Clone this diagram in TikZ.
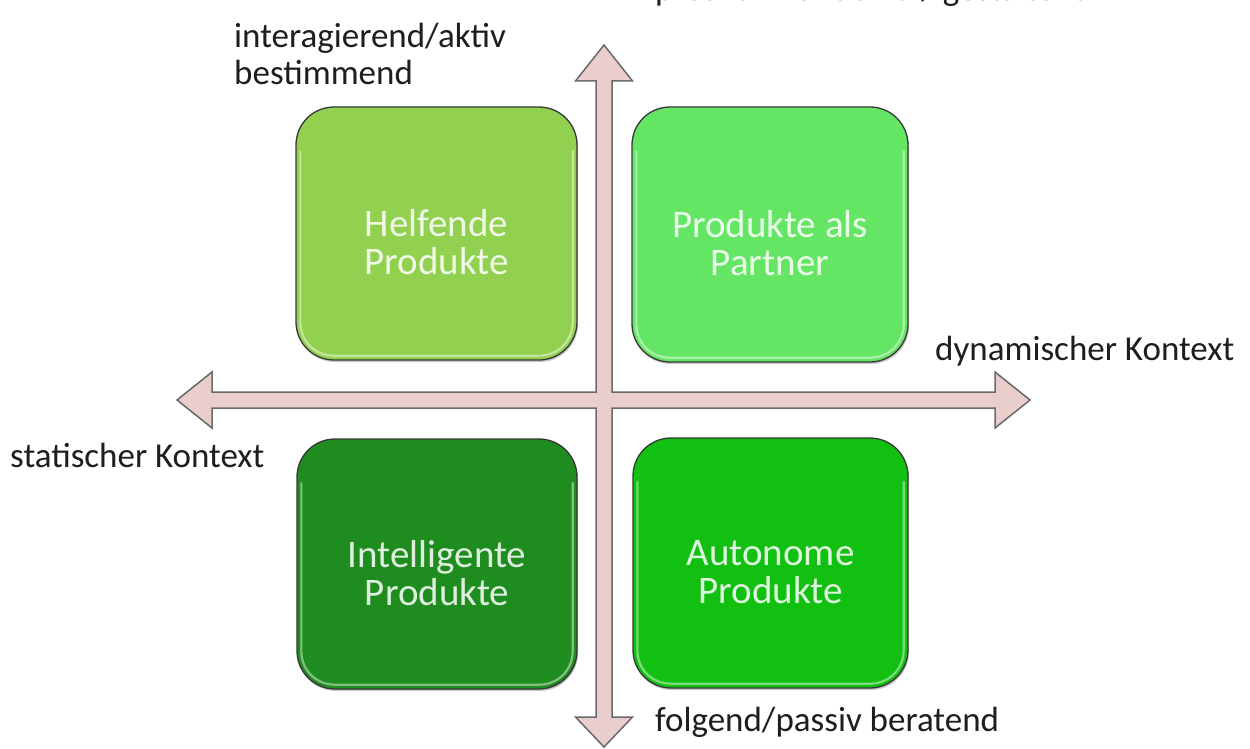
\documentclass[tikz,border=0pt]{standalone}
\usepackage{fontspec}
\setmainfont{Carlito}
\usetikzlibrary{calc,shadows}

\definecolor{cHelf}{HTML}{92D050}
\definecolor{cPart}{HTML}{64E664}
\definecolor{cIntel}{HTML}{1E8C1E}
\definecolor{cAuto}{HTML}{12C012}
\definecolor{axisfill}{HTML}{EACDCD}
\definecolor{axisline}{HTML}{6A6A6A}
\definecolor{labelink}{HTML}{1E1E1E}

\tikzset{
  cell/.style={draw=black!78, line width=1.3pt, rounded corners=38pt,
    minimum width=#1, inner sep=0pt,
    drop shadow={shadow xshift=1pt, shadow yshift=-2pt, opacity=0.35, fill=black!60}},
  bevel/.style={draw=white, line width=2.2pt, opacity=0.45, rounded corners=33pt},
  celltext/.style={font=\fontsize{39}{38}\selectfont, align=center, text=white!86!#1},
  axislabel/.style={font=\fontsize{35}{33}\selectfont, text=labelink, inner sep=0pt},
}

\newcommand\bevelon[1]{%
  \draw[bevel] ($(#1.north west)+(5,44)$) -- ($(#1.south west)+(5,-5)$)
    -- ($(#1.south east)+(-5,-5)$) -- ($(#1.north east)+(-5,44)$);}

\begin{document}
\begin{tikzpicture}[x=1pt, y=-1pt]
  \useasboundingbox (0,0) rectangle (1250,749);
  \fill[white] (0,0) rectangle (1250,749);

  % heading cut by the upper edge
  \begin{scope}
    \clip (0,0) rectangle (1250,749);
    \node[axislabel, anchor=base west] (toplabel) at (655,1) {proaktiv handelnd / gestaltend};
  \end{scope}

  % cross of the two axes
  \draw[fill=axisfill, draw=axisline, line width=1.5pt, line join=miter]
    (604,45) -- (632.5,81) -- (612,81) -- (612,392) -- (995,392) -- (995,372)
    -- (1030,400) -- (995,428) -- (995,408) -- (612,408) -- (612,717)
    -- (632.5,717) -- (604,747) -- (575.5,717) -- (596,717) -- (596,408)
    -- (212,408) -- (212,428) -- (177,400) -- (212,372) -- (212,392)
    -- (596,392) -- (596,81) -- (575.5,81) -- cycle;

  % the four quadrants
  \node[cell=281pt, minimum height=253pt, fill=cHelf]  (helf)  at (436.5,233.5) {};
  \node[cell=276pt, minimum height=255pt, fill=cPart]  (part)  at (770,234.5) {};
  \node[cell=280pt, minimum height=250pt, fill=cIntel] (intel) at (437,564) {};
  \node[cell=275pt, minimum height=250pt, fill=cAuto]  (auto)  at (770.5,563) {};
  \bevelon{helf}\bevelon{part}\bevelon{intel}\bevelon{auto}

  \node[celltext=cHelf]  (helftext)  at ($(helf)+(0,9)$)  {Helfende\\Produkte};
  \node[celltext=cPart]  (parttext)  at ($(part)+(0,9)$)  {Produkte als\\Partner};
  \node[celltext=cIntel] (inteltext) at ($(intel)+(0,9)$) {Intelligente\\Produkte};
  \node[celltext=cAuto]  (autotext)  at ($(auto)+(0,9)$)  {Autonome\\Produkte};

  % axis labels
  \node[axislabel, anchor=base west] (up1) at (234,48) {interagierend/aktiv};
  \node[axislabel, anchor=base west] (up2) at (234,85) {bestimmend};
  \node[axislabel, anchor=base west] (right) at (935,360) {dynamischer Kontext};
  \node[axislabel, anchor=base west] (left) at (10,467) {statischer Kontext};
  \node[axislabel, anchor=base west] (down) at (655,731) {folgend/passiv beratend};
\end{tikzpicture}
\end{document}
